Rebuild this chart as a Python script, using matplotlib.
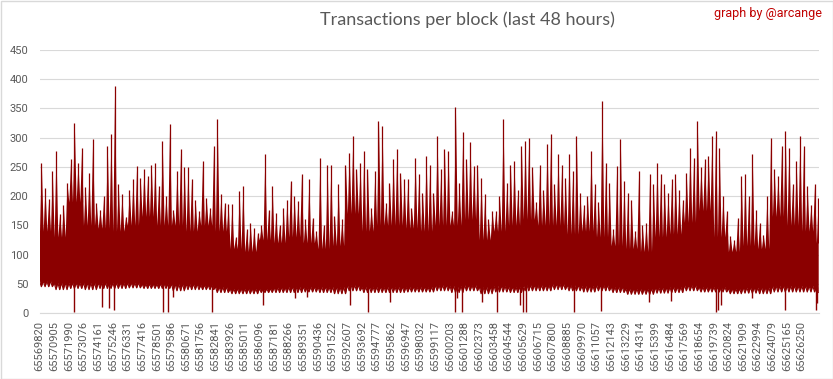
import matplotlib
matplotlib.use("Agg")
import matplotlib.pyplot as plt
from matplotlib.patches import Rectangle
import numpy as np

# block range shown on the category axis
first_block = 65569820
label_step = 1085          # categories between two axis labels
n_blocks = 57700

tick_labels = [
    "65569820", "65570905", "65571990", "65573076", "65574161", "65575246",
    "65576331", "65577416", "65578501", "65579586", "65580671", "65581756",
    "65582841", "65583926", "65585011", "65586096", "65587181", "65588266",
    "65589351", "65590436", "65591522", "65592607", "65593692", "65594777",
    "65595862", "65596947", "65598032", "65599117", "65600203", "65601288",
    "65602373", "65603458", "65604544", "65605629", "65606715", "65607800",
    "65608885", "65609970", "65611057", "65612143", "65613229", "65614314",
    "65615399", "65616484", "65617569", "65618654", "65619739", "65620824",
    "65621909", "65622994", "65624079", "65625165", "65626250",
]

# highest tx count in each quarter of a label interval
peaks = [
    257, 214, 195, 243,  277, 170, 185, 223,  263, 325, 257, 283,  215, 240, 297, 188,
    177, 200, 286, 306,  388, 220, 203, 165,  211, 229, 251, 231,  246, 234, 254, 257,
    217, 294, 200, 323,  177, 243, 280, 249,  249, 230, 194, 175,  260, 197, 180, 286,
    332, 203, 188, 186,  186, 130, 209, 217,  143, 154, 146, 137,  150, 272, 177, 217,
    171, 151, 180, 194,  226, 200, 191, 237,  160, 229, 163, 140,  266, 150, 254, 254,
    166, 220, 160, 254,  274, 303, 246, 257,  277, 246, 180, 243,  329, 320, 188, 223,
    263, 280, 240, 229,  229, 180, 266, 237,  206, 268, 254, 206,  303, 246, 280, 277,
    174, 352, 223, 309,  263, 292, 252, 254,  231, 203, 160, 175,  174, 200, 332, 223,
    254, 260, 210, 286,  295, 300, 249, 190,  254, 211, 289, 306,  220, 272, 254, 231,
    272, 243, 303, 206,  185, 200, 277, 220,  190, 363, 257, 223,  143, 252, 297, 226,
    206, 194, 140, 243,  150, 154, 237, 220,  257, 237, 220, 206,  229, 237, 210, 194,
    240, 283, 266, 329,  250, 263, 269, 303,  312, 283, 200, 174,  131, 125, 163, 234,
    237, 200, 272, 177,  154, 134, 200, 300,  246, 234, 286, 312,  283, 220, 260, 303,
    286, 217, 185, 220,  197,
]

# top of the dense band, one value per label interval
troughs = [
    140, 130, 190, 150, 145, 140, 150, 165, 150, 150, 140, 150, 140, 110,
    105, 125, 120, 130, 120, 110, 115, 170, 140, 150, 150, 145, 140, 150,
    150, 160, 125, 140, 150, 160, 150, 150, 135, 140, 130, 115, 110, 105,
    130, 135, 155, 175, 130, 105, 115, 110, 165, 150, 140, 120,
]

# bottom of the dense band and its ragged lower edge
floor_solid = [
    55, 52, 52, 52, 52, 52, 52, 50, 50, 50, 50, 48, 45, 42, 42, 42, 44, 45,
    45, 45, 45, 48, 45, 45, 45, 45, 45, 48, 47, 48, 45, 47, 45, 48, 48, 50,
    48, 47, 48, 45, 42, 42, 44, 45, 48, 45, 45, 42, 44, 44, 47, 47, 47, 45,
]
floor_jag = [
    45, 40, 42, 40, 42, 42, 43, 42, 42, 38, 40, 40, 35, 33, 33, 35, 35, 35,
    36, 35, 33, 38, 35, 35, 35, 36, 36, 38, 35, 38, 33, 36, 35, 38, 38, 40,
    38, 36, 38, 35, 32, 32, 34, 35, 38, 36, 36, 33, 34, 33, 36, 36, 36, 35,
]

# blocks with almost no transactions
dip_blocks = [
    65572373, 65574423, 65574963, 65575333, 65578989, 65579359, 65579677,
    65582615, 65586359, 65588705, 65589593, 65592797, 65594129, 65595757,
    65600567, 65600745, 65601085, 65602565, 65603653, 65605377, 65605599,
    65605821, 65609373, 65611371, 65614901, 65616529, 65619859, 65620029,
    65620229, 65622545, 65624987, 65627281, 65627407,
]
dip_values = [
    1, 11, 8, 5, 1, 1, 28, 1, 14, 25, 27, 13, 1, 18, 1, 25, 1, 18, 1, 14, 1,
    1, 1, 3, 19, 21, 1, 5, 14, 25, 5, 5, 17,
]

RED = "#8B0000"
GREY = "#595959"
LIGHT = "#D9D9D9"

quarter = label_step / 4
k = np.arange(len(peaks))
seg = k // 4
trough_q = np.asarray(troughs)[seg]
solid_q = np.asarray(floor_solid)[seg]
jag_q = np.asarray(floor_jag)[seg]

# each quarter: band level at its edges, spike at its centre
xs = np.column_stack([k * quarter, (k + 0.5) * quarter]).ravel()
top = np.column_stack([trough_q, peaks]).ravel()
bottom = np.column_stack([solid_q, jag_q]).ravel()

fig = plt.figure(figsize=(8.33, 3.79), dpi=100)
ax = fig.add_axes([39.5 / 833, 66 / 379, 779.5 / 833, 263 / 379])

ax.fill_between(xs, bottom, top, color=RED, lw=0)
ax.plot(xs, bottom, color=RED, lw=0.8)
ax.vlines((k + 0.5) * quarter, trough_q, peaks, color=RED, lw=0.9)
dip_x = np.asarray(dip_blocks) - first_block
dip_top = np.asarray(floor_solid)[np.minimum(dip_x // label_step, len(floor_solid) - 1)]
ax.vlines(dip_x, dip_values, dip_top, color=RED, lw=1.0)

ax.set_xlim(0, n_blocks - 1)
ax.set_ylim(0, 450)
ax.set_yticks(range(0, 451, 50))
ax.set_xticks([i * label_step for i in range(len(tick_labels))])
ax.set_xticklabels(tick_labels, rotation=90)
ax.grid(axis="y", color=LIGHT, lw=0.8)
ax.set_axisbelow(True)
for side in ("left", "right", "top"):
    ax.spines[side].set_visible(False)
ax.spines["bottom"].set_color(LIGHT)
ax.tick_params(axis="both", length=0, colors=GREY, labelsize=8)
ax.tick_params(axis="x", pad=6)
ax.tick_params(axis="y", pad=8)
for lab in ax.get_xticklabels() + ax.get_yticklabels():
    lab.set_fontfamily("Roboto")

fig.text(467 / 833, 1 - 20 / 379, "Transactions per block (last 48 hours)",
         ha="center", va="center", fontsize=13, color=GREY, family="Lato")
fig.text(822 / 833, 1 - 14 / 379, "graph by @arcange", ha="right", va="center",
         fontsize=9, color="#C00000", family="Roboto")

fig.patches.append(Rectangle((0.5 / 833, 0.5 / 379), 832 / 833, 378 / 379,
                             transform=fig.transFigure, fill=False,
                             edgecolor=LIGHT, lw=1))

fig.savefig("out.png", dpi=100)
